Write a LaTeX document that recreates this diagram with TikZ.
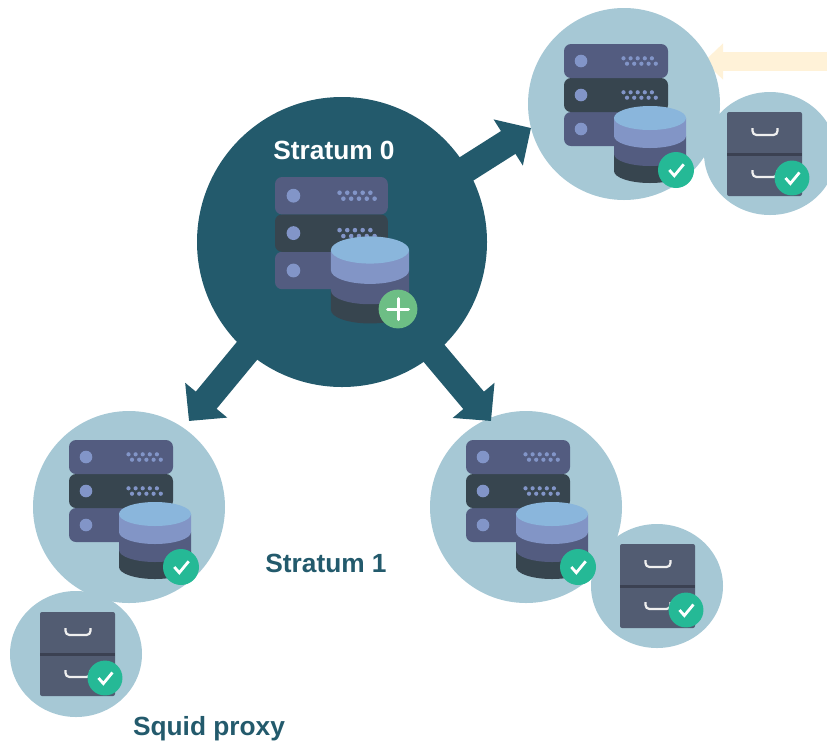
\documentclass[tikz,border=0pt]{standalone}
\usepackage{fontspec}
\setmainfont{Liberation Sans}
\usetikzlibrary{arrows.meta,shapes.geometric}
\definecolor{deepteal}{HTML}{235A6C}
\definecolor{paleblue}{HTML}{A6C8D5}
\definecolor{rackslate}{HTML}{535C80}
\definecolor{rackdark}{HTML}{37454F}
\definecolor{dotblue}{HTML}{8295C8}
\definecolor{dbtop}{HTML}{8AB6DC}
\definecolor{dblav}{HTML}{8295C6}
\definecolor{cabinet}{HTML}{525C72}
\definecolor{cabinetline}{HTML}{3B4152}
\definecolor{handle}{HTML}{EFEFEF}
\definecolor{okgreen}{HTML}{25B996}
\definecolor{plusgreen}{HTML}{6DBE85}
\definecolor{cream}{HTML}{FFF2D8}
\tikzset{
  bubble/.style={ellipse,fill=paleblue,draw=none,inner sep=0pt,outer sep=0pt},
  blockarrow/.style={draw=deepteal,line width=27pt,-{Triangle[length=27pt,width=53pt,fill=deepteal]}},
  creamarrow/.style={draw=cream,line width=18.5pt,-{Triangle[length=19pt,width=35pt,fill=cream]}},
  titlelabel/.style={font=\fontsize{26.3}{30}\selectfont\bfseries,inner sep=0pt,anchor=base},
  rack/.pic={
    \foreach \yy/\cc in {68/rackslate,34/rackdark,0/rackslate}{
      \fill[\cc,rounded corners=7pt] (0,\yy) rectangle (104,\yy+34);
      \fill[dotblue] (17,\yy+17) circle[radius=6.3];
      \foreach \k in {0,...,4}{
        \fill[dotblue] (59.5+7.1*\k,\yy+14.3) circle[radius=2.1];
        \fill[dotblue] (63+7.2*\k,\yy+19.7) circle[radius=2.1];
      }
    }
  },
  cylinder stack/.pic={
    \fill[rackdark] (-36,36) -- (-36,53) arc[start angle=180,end angle=0,x radius=36,y radius=12] -- (36,36) -- cycle;
    \fill[rackslate] (-36,18) -- (-36,36) arc[start angle=180,end angle=0,x radius=36,y radius=12] -- (36,18) -- cycle;
    \fill[dblav] (-36,0) -- (-36,18) arc[start angle=180,end angle=0,x radius=36,y radius=12] -- (36,0) -- cycle;
    \fill[dbtop] (0,0) ellipse[x radius=36,y radius=12];
  },
  drawers/.pic={
    \fill[cabinet,rounded corners=2pt] (0,0) rectangle (75,84);
    \fill[cabinetline] (0,41) rectangle (75,44);
    \foreach \yy in {16,58}{
      \draw[handle,line width=2.2pt,rounded corners=4pt] (25.5,\yy) -- (25.5,\yy+7) -- (50.5,\yy+7) -- (50.5,\yy);
    }
  },
  check badge/.pic={
    \fill[okgreen] (0,0) circle[radius=18];
    \draw[white,line width=2.8pt] (-6.7,0) -- (-1.7,5.7) -- (7.7,-5.7);
  },
  plus badge/.pic={
    \fill[plusgreen] (0,0) circle[radius=19.4];
    \draw[white,line width=3pt,line cap=round] (-10.5,0) -- (10.5,0) (0,-10.5) -- (0,10.5);
  },
}
\begin{document}
\begin{tikzpicture}[x=1pt,y=-1pt]
\useasboundingbox (0,0) rectangle (827,740);
% incoming pale arrow, partly behind the top-right bubble
\coordinate (creamstart) at (830,61.5);
\coordinate (creamtip) at (704,61.5);
\draw[creamarrow] (creamstart) -- (creamtip);
% bubbles
\node[bubble,minimum width=192pt,minimum height=192pt] (s1tr) at (624,104) {};
\node[bubble,minimum width=132pt,minimum height=123pt] (sqtr) at (770,153.5) {};
\node[bubble,minimum width=192pt,minimum height=192pt] (s1bl) at (129,507) {};
\node[bubble,minimum width=132pt,minimum height=126pt] (sqbl) at (76,654) {};
\node[bubble,minimum width=192pt,minimum height=192pt] (s1mid) at (526,507) {};
\node[bubble,minimum width=132pt,minimum height=124pt] (sqmid) at (657,586) {};
% arrows
\coordinate (fromtr) at (440,185.7);
\coordinate (tiptr) at (531,128);
\coordinate (frombl) at (272.5,320);
\coordinate (tipbl) at (189,421);
\coordinate (frommid) at (406,320);
\coordinate (tipmid) at (491,421);
\draw[blockarrow] (fromtr) -- (tiptr);
\draw[blockarrow] (frombl) -- (tipbl);
\draw[blockarrow] (frommid) -- (tipmid);
\node[circle,fill=deepteal,inner sep=0pt,outer sep=0pt,minimum size=290pt] (s0) at (342,242) {};
% stratum 0
\pic[xscale=1.085,yscale=1.1] (rack0) at (275,177) {rack};
\pic[xscale=1.085,yscale=1.13] (db0) at (370,250) {cylinder stack};
\pic (plus0) at (398,309) {plus badge};
% stratum 1 top right
\pic (racktr) at (564,44) {rack};
\pic (dbtr) at (650,118) {cylinder stack};
\pic (oktr) at (676,170) {check badge};
\pic (cabtr) at (727,112) {drawers};
\pic[scale=.97] (okcabtr) at (792,178) {check badge};
% stratum 1 bottom left
\pic (rackbl) at (69,440) {rack};
\pic (dbbl) at (155,514) {cylinder stack};
\pic (okbl) at (181,567) {check badge};
\pic (cabbl) at (40,612) {drawers};
\pic[scale=.97] (okcabbl) at (105,678) {check badge};
% stratum 1 bottom middle
\pic (rackmid) at (466,440) {rack};
\pic (dbmid) at (552,514) {cylinder stack};
\pic (okmid) at (578,567) {check badge};
\pic (cabmid) at (620,544) {drawers};
\pic[scale=.97] (okcabmid) at (686,610) {check badge};
% labels
\node[titlelabel,text=white] (lab0) at (334,159.5) {Stratum 0};
\node[titlelabel,text=deepteal] (lab1) at (326,572) {Stratum 1};
\node[titlelabel,text=deepteal] (lab2) at (209,735) {Squid proxy};
\end{tikzpicture}
\end{document}
